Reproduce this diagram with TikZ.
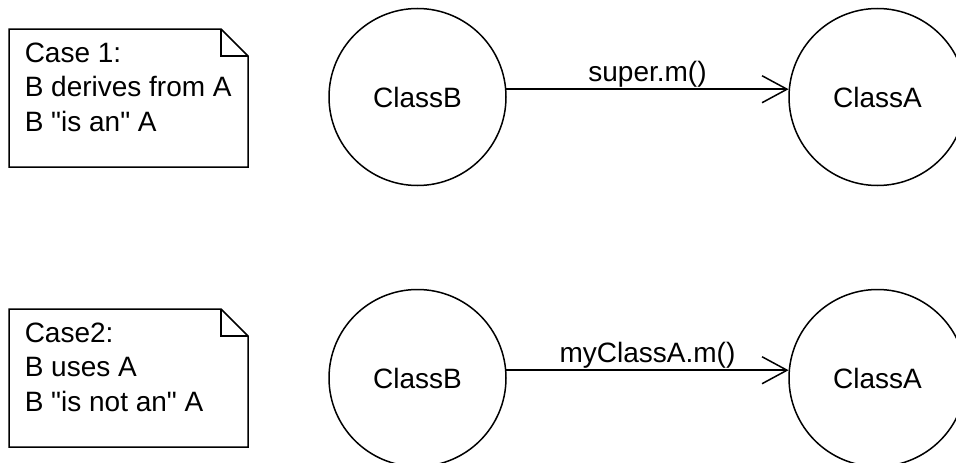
\documentclass[tikz,border=0pt]{standalone}
\usepackage{fontspec}
\setmainfont{Liberation Sans}[Ligatures=TeXOff]
\usetikzlibrary{arrows.meta}
\tikzstyle{classnode}=[draw, circle, minimum size=177pt, inner sep=0pt]
\tikzstyle{callarrow}=[-{Straight Barb[length=25pt,width=27pt]}]
\tikzstyle{notetext}=[anchor=north west, align=left, inner sep=0pt]
\def\notebox(#1,#2)(#3,#4)% Syntax: (top left)(bottom right), dog-ear of 27
    { \draw (#1,#2) -- ({#3-27},#2) -- (#3,{#2+27}) -- (#3,#4) -- (#1,#4) -- cycle;
      \draw ({#3-27},#2) -- ({#3-27},{#2+27}) -- (#3,{#2+27}); }
\begin{document}
\begin{tikzpicture}[x=1pt, y=-1pt, line width=1.5pt, font=\fontsize{28}{34.5}\selectfont]
  \useasboundingbox (0,0) rectangle (956,463);
  % case 1: B inherits from A
  \notebox(9,29)(248,167)
  \node[notetext] (note1) at (24,42) {Case 1:\\B derives from A\\B "is an" A};
  \node[classnode] (classB1) at (417.5,97) {ClassB};
  \node[classnode] (classA1) at (877.5,97) {ClassA};
  \draw[callarrow] (classB1.5) -- node[above, inner sep=1pt] {super.m()} (classA1.175);
  % case 2: B holds an A
  \notebox(9,309)(248,447)
  \node[notetext] (note2) at (24,322) {Case2:\\B uses A\\B "is not an" A};
  \node[classnode] (classB2) at (417.5,378) {ClassB};
  \node[classnode] (classA2) at (877.5,378) {ClassA};
  \draw[callarrow] (classB2.5) -- node[above, inner sep=1pt] {myClassA.m()} (classA2.175);
\end{tikzpicture}
\end{document}
